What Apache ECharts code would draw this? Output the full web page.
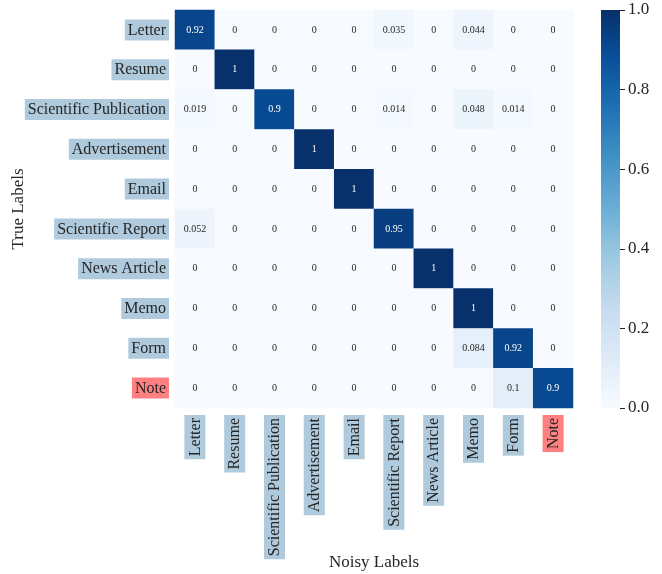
<!DOCTYPE html>
<html>
<head>
<meta charset="utf-8">
<script src="https://cdn.jsdelivr.net/npm/echarts@6/dist/echarts.min.js"></script>
<style>
  html, body { margin: 0; padding: 0; background: #ffffff; }
  #chart { width: 662px; height: 574px; }
</style>
</head>
<body>
<div id="chart"></div>
<script>
// Document classes: rows are the true labels, columns the noisy labels
const trueLabels = ['Letter', 'Resume', 'Scientific Publication', 'Advertisement', 'Email',
  'Scientific Report', 'News Article', 'Memo', 'Form', 'Note'];
const noisyLabels = ['Letter', 'Resume', 'Scientific Publication', 'Advertisement', 'Email',
  'Scientific Report', 'News Article', 'Memo', 'Form', 'Note'];

// Classes whose tick labels get the highlighted (red) box
const highlighted = ['Note'];

// Row-normalised confusion matrix
const rowLetter       = [0.92, 0, 0, 0, 0, 0.035, 0, 0.044, 0, 0];
const rowResume       = [0, 1, 0, 0, 0, 0, 0, 0, 0, 0];
const rowSciPub       = [0.019, 0, 0.9, 0, 0, 0.014, 0, 0.048, 0.014, 0];
const rowAdvert       = [0, 0, 0, 1, 0, 0, 0, 0, 0, 0];
const rowEmail        = [0, 0, 0, 0, 1, 0, 0, 0, 0, 0];
const rowSciReport    = [0.052, 0, 0, 0, 0, 0.95, 0, 0, 0, 0];
const rowNewsArticle  = [0, 0, 0, 0, 0, 0, 1, 0, 0, 0];
const rowMemo         = [0, 0, 0, 0, 0, 0, 0, 1, 0, 0];
const rowForm         = [0, 0, 0, 0, 0, 0, 0, 0.084, 0.92, 0];
const rowNote         = [0, 0, 0, 0, 0, 0, 0, 0, 0.1, 0.9];
const matrix = [rowLetter, rowResume, rowSciPub, rowAdvert, rowEmail,
  rowSciReport, rowNewsArticle, rowMemo, rowForm, rowNote];

// Colour bar ticks
const barTicks = [0, 0.2, 0.4, 0.6, 0.8, 1.0];

// matplotlib "Blues" colormap
const blues = ['#f7fbff', '#deebf7', '#c6dbef', '#9ecae1', '#6baed6',
  '#4292c6', '#2171b5', '#08519c', '#08306b'];

const serif = '"Liberation Serif", "DejaVu Serif", serif';
const textDark = '#262626';

const cells = [];
matrix.forEach((row, r) => {
  row.forEach((v, c) => {
    cells.push({
      value: [c, r, v],
      label: { color: v > 0.5 ? '#ffffff' : textDark }
    });
  });
});

const boxBlue = '#afcadc';
const boxRed = '#ff8080';
const tagRich = {
  b: { backgroundColor: boxBlue, padding: [3, 3, 2, 3], fontFamily: serif, fontSize: 16, color: textDark },
  r: { backgroundColor: boxRed, padding: [3, 3, 2, 3], fontFamily: serif, fontSize: 16, color: textDark }
};
const tag = (name) => (highlighted.includes(name) ? '{r|' : '{b|') + name + '}';

const chart = echarts.init(document.getElementById('chart'), null, { renderer: 'canvas' });
chart.setOption({
  animation: false,
  backgroundColor: '#ffffff',
  grid: [
    { left: 175, top: 10, width: 398, height: 398, outerBoundsMode: 'none', containLabel: false },
    { left: 601, top: 10, width: 19, height: 398, outerBoundsMode: 'none', containLabel: false }
  ],
  xAxis: [
    {
      type: 'category', gridIndex: 0, data: noisyLabels, position: 'bottom',
      axisLine: { show: false }, axisTick: { show: false }, splitLine: { show: false },
      axisLabel: { rotate: 90, margin: 7, formatter: tag, rich: tagRich },
      name: 'Noisy Labels', nameLocation: 'middle', nameGap: 146, nameMoveOverlap: false,
      nameTextStyle: { fontFamily: serif, fontSize: 17, color: textDark }
    },
    {
      type: 'category', gridIndex: 1, data: ['c'],
      axisLine: { show: false }, axisTick: { show: false }, axisLabel: { show: false }
    }
  ],
  yAxis: [
    {
      type: 'category', gridIndex: 0, data: trueLabels, inverse: true,
      axisLine: { show: false }, axisTick: { show: false }, splitLine: { show: false },
      axisLabel: { margin: 6, formatter: tag, rich: tagRich },
      name: 'True Labels', nameLocation: 'middle', nameGap: 148, nameRotate: 90, nameMoveOverlap: false,
      nameTextStyle: { fontFamily: serif, fontSize: 17, color: textDark }
    },
    {
      type: 'value', gridIndex: 1, min: 0, max: 1, interval: 0.2, position: 'right',
      axisLine: { show: false }, splitLine: { show: false },
      axisTick: { show: true, length: 5, lineStyle: { color: textDark, width: 1 } },
      axisLabel: {
        margin: 8, fontFamily: serif, fontSize: 17, color: textDark,
        formatter: (v) => (barTicks.some(t => Math.abs(t - v) < 1e-9) ? v.toFixed(1) : '')
      }
    }
  ],
  visualMap: {
    show: false, type: 'continuous', min: 0, max: 1, seriesIndex: 0,
    inRange: { color: blues }
  },
  series: [
    {
      type: 'heatmap', xAxisIndex: 0, yAxisIndex: 0, data: cells,
      label: { show: true, fontFamily: serif, fontSize: 10, formatter: (p) => String(p.value[2]) },
      itemStyle: { borderWidth: 0 },
      emphasis: { disabled: true }
    },
    {
      type: 'bar', xAxisIndex: 1, yAxisIndex: 1, data: [1], barWidth: '100%', silent: true,
      itemStyle: {
        color: new echarts.graphic.LinearGradient(0, 0, 0, 1,
          blues.slice().reverse().map((c, i) => ({ offset: i / (blues.length - 1), color: c })))
      }
    }
  ]
});
</script>
</body>
</html>
